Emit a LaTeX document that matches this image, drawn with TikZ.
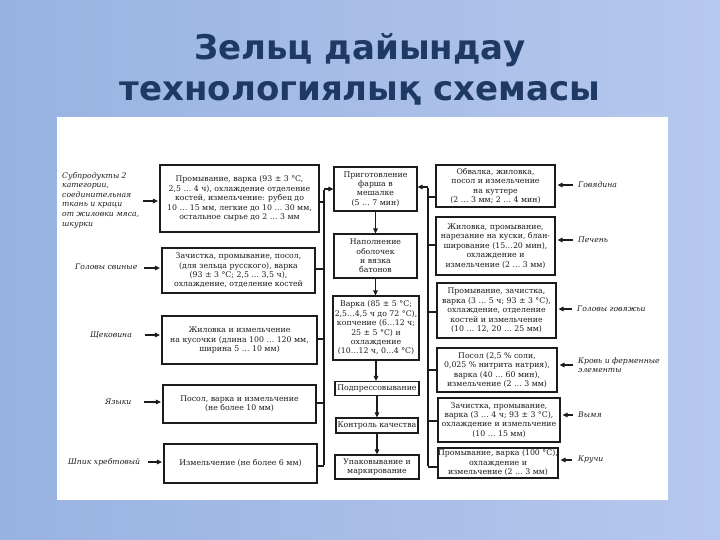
\documentclass[tikz,border=0pt]{standalone}
\usepackage{fontspec}
\setmainfont{DejaVu Serif}
\newfontfamily\titlefont{DejaVu Sans}
\newfontfamily\scanfont{DejaVu Serif}
\usetikzlibrary{arrows.meta}
\definecolor{bgL}{RGB}{152,178,226}
\definecolor{bgR}{RGB}{182,200,237}
\definecolor{titleC}{RGB}{30,58,100}
\definecolor{ink}{RGB}{28,28,28}
\begin{document}
\begin{tikzpicture}[x=1pt,y=-1pt,
  bx/.style={draw=ink, line width=1.1pt, fill=white, align=center, inner sep=0pt, text=ink,
    font=\scanfont\fontsize{7.8}{9.4}\selectfont},
  lbl/.style={align=left, inner sep=0pt, text=ink, anchor=west,
    font=\scanfont\itshape\fontsize{7.7}{9.6}\selectfont},
  bus/.style={draw=ink, line width=2.3pt},
  conn/.style={draw=ink, line width=1.6pt},
  arr/.style={draw=ink, line width=1.5pt, -{Triangle[length=5pt,width=4.5pt]}},
  ttl/.style={font=\titlefont\bfseries\fontsize{34}{40}\selectfont, text=titleC, anchor=base, inner sep=0pt}
]
\useasboundingbox (0,0) rectangle (720,540);
\shade[left color=bgL, right color=bgR] (0,0) rectangle (720,540);
% title
\node[ttl] (t1) at (360,60) {Зельц дайындау};
\node[ttl] (t2) at (360,101) {технологиялық схемасы};
% white scan panel
\fill[white] (57,117) rectangle (668,500);

% left column
\node[bx, minimum width=159pt, minimum height=67pt] (L1) at (239.5,198.5)
  {Промывание, варка (93 ± 3 °C,\\2,5 … 4 ч), охлаждение отделение\\костей, измельчение: рубец до\\10 … 15 мм, легкие до 10 … 30 мм,\\остальное сырье до 2 … 3 мм};
\node[bx, minimum width=153pt, minimum height=45pt] (L2) at (238.5,270.5)
  {Зачистка, промывание, посол,\\(для зельца русского), варка\\(93 ± 3 °C; 2,5 … 3,5 ч),\\охлаждение, отделение костей};
\node[bx, minimum width=155pt, minimum height=48pt] (L3) at (239.5,340)
  {Жиловка и измельчение\\на кусочки (длина 100 … 120 мм,\\ширина 5 … 10 мм)};
\node[bx, minimum width=153pt, minimum height=38pt] (L4) at (239.5,404)
  {Посол, варка и измельчение\\(не более 10 мм)};
\node[bx, minimum width=153pt, minimum height=39pt] (L5) at (240.5,463.5)
  {Измельчение (не более 6 мм)};

% left labels
\node[lbl] (s1) at (62,200) {Субпродукты 2\\категории,\\соединительная\\ткань и краци\\от жиловки мяса,\\шкурки};
\node[lbl] (s2) at (75,267) {Головы свиные};
\node[lbl] (s3) at (90,335) {Щековина};
\node[lbl] (s4) at (105,402) {Языки};
\node[lbl] (s5) at (68,462) {Шпик хребтовый};
\coordinate (la1) at (143,201);
\coordinate (la2) at (144,268);
\coordinate (la3) at (145,335);
\coordinate (la4) at (144,402);
\coordinate (la5) at (148,462);
\foreach \c/\b in {la1/L1,la2/L2,la3/L3,la4/L4,la5/L5}
  \draw[arr, shorten >=1.5pt] (\c) -- (\b.west|-\c);

% centre column
\node[bx, minimum width=83pt, minimum height=44pt] (C1) at (375.5,189)
  {Приготовление\\фарша в\\мешалке\\(5 … 7 мин)};
\node[bx, minimum width=83pt, minimum height=44pt] (C2) at (375.5,256)
  {Наполнение\\оболочек\\и вязка\\батонов};
\node[bx, minimum width=86pt, minimum height=64pt] (C3) at (376,328)
  {Варка (85 ± 5 °C;\\2,5…4,5 ч до 72 °C),\\копчение (6…12 ч;\\25 ± 5 °C) и\\охлаждение\\(10…12 ч, 0…4 °C)};
\node[bx, minimum width=84pt, minimum height=14pt] (C4) at (377,388.5) {Подпрессовывание};
\node[bx, minimum width=82pt, minimum height=15pt] (C5) at (377,425.5) {Контроль качества};
\node[bx, minimum width=84pt, minimum height=24pt] (C6) at (377,467) {Упаковывание и\\маркирование};
\draw[arr] (C1.south) -- (C1.south|-C2.north);
\draw[arr] (C2.south) -- (C2.south|-C3.north);
\draw[arr] (C3.south) -- (C3.south|-C4.north);
\draw[arr] (C4.south) -- (C4.south|-C5.north);
\draw[arr] (C5.south) -- (C5.south|-C6.north);

% right column
\node[bx, minimum width=119pt, minimum height=42pt] (R1) at (495.5,186)
  {Обвалка, жиловка,\\посол и измельчение\\на куттере\\(2 … 3 мм; 2 … 4 мин)};
\node[bx, minimum width=119pt, minimum height=58pt] (R2) at (495.5,246)
  {Жиловка, промывание,\\нарезание на куски, блан-\\ширование (15…20 мин),\\охлаждение и\\измельчение (2 … 3 мм)};
\node[bx, minimum width=119pt, minimum height=55pt] (R3) at (496.5,310.5)
  {Промывание, зачистка,\\варка (3 … 5 ч; 93 ± 3 °C),\\охлаждение, отделение\\костей и измельчение\\(10 … 12, 20 … 25 мм)};
\node[bx, minimum width=120pt, minimum height=44pt] (R4) at (497,370)
  {Посол (2,5 \% соли,\\0,025 \% нитрита натрия),\\варка (40 … 60 мин),\\измельчение (2 … 3 мм)};
\node[bx, minimum width=122pt, minimum height=44pt] (R5) at (499,420)
  {Зачистка, промывание,\\варка (3 … 4 ч; 93 ± 3 °C),\\охлаждение и измельчение\\(10 … 15 мм)};
\node[bx, minimum width=120pt, minimum height=30pt] (R6) at (498,463)
  {Промывание, варка (100 °C),\\охлаждение и\\измельчение (2 … 3 мм)};

% right labels
\node[lbl] (g1) at (578,185) {Говядина};
\node[lbl] (g2) at (578,240) {Печень};
\node[lbl] (g3) at (577,309) {Головы говяжьи};
\node[lbl] (g4) at (578,365) {Кровь и ферменные\\элементы};
\node[lbl] (g5) at (578,415) {Вымя};
\node[lbl] (g6) at (578,460) {Кручи};
\coordinate (ra1) at (573,185);
\coordinate (ra2) at (573,240);
\coordinate (ra3) at (572,309);
\coordinate (ra4) at (573,365);
\coordinate (ra5) at (573,415);
\coordinate (ra6) at (572,460);
\foreach \c/\b in {ra1/R1,ra2/R2,ra3/R3,ra4/R4,ra5/R5,ra6/R6}
  \draw[arr, shorten >=2pt] (\c) -- (\b.east|-\c);

% left bus
\coordinate (lbT) at (324,189);
\coordinate (lbB) at (324,466);
\draw[bus] ([yshift=-1pt]lbT) -- ([yshift=1pt]lbB);
\coordinate (lj1) at (324,202);
\coordinate (lj2) at (324,269);
\coordinate (lj3) at (324,339);
\coordinate (lj4) at (324,403);
\foreach \c/\b in {lj1/L1,lj2/L2,lj3/L3,lj4/L4,lbB/L5}
  \draw[conn] (\b.east|-\c) -- (\c);
\draw[arr] (lbT) -- (C1.west|-lbT);

% right bus
\coordinate (rbT) at (428,187);
\coordinate (rbB) at (428,467);
\draw[bus] ([yshift=-1pt]rbT) -- ([yshift=1pt]rbB);
\coordinate (rj1) at (428,197);
\coordinate (rj2) at (428,245);
\coordinate (rj3) at (428,312);
\coordinate (rj4) at (428,370);
\coordinate (rj5) at (428,421);
\foreach \c/\b in {rj1/R1,rj2/R2,rj3/R3,rj4/R4,rj5/R5,rbB/R6}
  \draw[conn] (\c) -- (\b.west|-\c);
\draw[arr] (rbT) -- (C1.east|-rbT);
\end{tikzpicture}
\end{document}
